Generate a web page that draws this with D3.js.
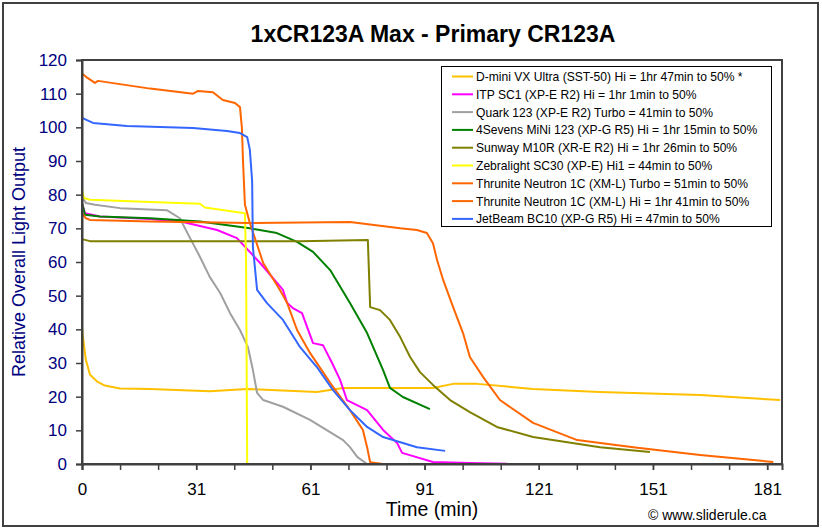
<!DOCTYPE html>
<html><head><meta charset="utf-8">
<script src="https://cdn.jsdelivr.net/npm/d3@7"></script>
<style>
body{margin:0;background:#fff;}
svg{display:block;font-family:Arial,"Liberation Sans",sans-serif;}
</style></head>
<body>
<svg id="chart" width="822" height="530"></svg>
<script>
// ---- data (x in chart category units, y = relative output) ----
const title = "1xCR123A Max - Primary CR123A";
const xTickPositions = [0, 30, 60, 90, 120, 150, 180];
const xTickLabels = ["0", "31", "61", "91", "121", "151", "181"];
const yTicks = [0, 10, 20, 30, 40, 50, 60, 70, 80, 90, 100, 110, 120];

const seriesNames = [
  "D-mini VX Ultra (SST-50) Hi = 1hr 47min to 50% *",
  "ITP SC1 (XP-E R2) Hi = 1hr 1min to 50%",
  "Quark 123 (XP-E R2) Turbo = 41min to 50%",
  "4Sevens MiNi 123 (XP-G R5) Hi = 1hr 15min to 50%",
  "Sunway M10R (XR-E R2) Hi = 1hr 26min to 50%",
  "Zebralight SC30 (XP-E) Hi1 = 44min to 50%",
  "Thrunite Neutron 1C (XM-L) Turbo = 51min to 50%",
  "Thrunite Neutron 1C (XM-L) Hi = 1hr 41min to 50%",
  "JetBeam BC10 (XP-G R5) Hi = 47min to 50%"
];
const seriesColors = ["#FFC000","#FF00FF","#A0A0A0","#008000","#808000","#FFFF00","#FF6600","#FF6600","#3366FF"];

const dminiX = [0,1,2.1,4,6,10,17.9,33.6,43.4,61.7,68.6,92.2,97.5,103.8,118.5,136,162.4,183.4];
const dminiY = [40,31,26.5,24.5,23.3,22.4,22.3,21.6,22.3,21.4,22.6,22.6,23.8,23.8,22.3,21.4,20.5,19.0];

const itpX = [0,0.8,4.7,17.9,26.5,35.5,40.7,46.8,52.8,53.9,55.4,57.8,60.7,63.3,65.7,67.8,69.6,74.9,79.1,82.8,84.1,92.2,101.9,111.7];
const itpY = [77.5,74.5,73.5,72.8,71.9,69.5,67.1,59.7,51.7,47.8,46.3,44.8,35.9,35.3,30,25,19,16,10.1,6.2,3.3,0.6,0.3,0.1];

const quarkX = [0,1.05,3.4,10,22.3,25.7,28.4,31,33.6,36.3,38.9,41.5,43.6,44.9,46,47.6,52.8,59.9,68.6,70.4,72.3,74.9];
const quarkY = [79.3,77.5,77,76,75.4,73,67.1,61.5,55.5,50.8,44.8,39.8,34.7,27.9,21.1,19,17,13.1,7.1,5,2.1,0];

const minisX = [0,0.8,4.7,17.9,31,44.1,51.2,56.5,60.7,65.2,70.4,74.9,79.1,80.9,84.3,91.4];
const minisY = [77.5,74,73.5,73,72,70,68.6,66,63,57.6,47.8,38.9,27.9,22.6,19.9,16.3];

const sunwayX = [0,2.1,31,57.3,75.1,75.7,78.3,80.9,83.6,86.2,88.8,92.2,96.7,101.9,109,118.5,136.1,149.2];
const sunwayY = [66.8,66.2,66.2,66.2,66.5,46.6,45.7,42.8,37.7,31.8,27.3,23.5,19,15.4,11,8,5.0,3.6];

const zebraX = [0,0.5,2.1,17.9,31,32.3,42.8,43.1,43.4,55.4];
const zebraY = [81.4,79,78.5,77.8,77.3,76.2,74.5,60,0,0];

const turboX = [0,1.05,3.4,4.2,17.9,29.2,30.5,34.4,37,40.2,41.5,42,42.3,42.8,44.1,47.6,52,53.9,56.5,59.9,65.2,70.4,73.8,74.9,75.7,79.1,114.6];
const turboY = [116,115,113.2,113.8,111.5,110,110.8,110.4,108.1,107.2,106,100,90,77,71.6,59.7,51.7,47.8,39.8,33,24.1,16,10.1,5,0.5,0,0];

const hiX = [0,1,2.1,17.9,44.1,70.4,83.6,88,90.6,92.2,93.3,94.9,97.5,100.1,101.9,105.4,109.8,118.5,130.1,144.8,162.4,181.6];
const hiY = [74.5,73,72.5,72,71.6,71.9,70,69.5,68.6,65.6,60.5,54.6,46.6,38.9,31.8,25.8,19,12.2,7.1,5,2.7,0.6];

const jetX = [0,2.9,11.8,20.5,29.2,38.1,41.5,43.4,44.1,44.7,44.9,46,48.6,52.8,57.3,61.7,65.9,70.4,74.9,79.1,88,95.4];
const jetY = [102.8,101.3,100.4,100.1,99.8,98.9,98.3,97.1,93.3,84,64.4,51.7,47.8,42.8,34.7,28.8,22,16,11,8,5,3.9];

const seriesX = [dminiX, itpX, quarkX, minisX, sunwayX, zebraX, turboX, hiX, jetX];
const seriesY = [dminiY, itpY, quarkY, minisY, sunwayY, zebraY, turboY, hiY, jetY];

// ---- drawing ----
const svg = d3.select("#chart");
const plot = {left: 82, right: 782, top: 60, bottom: 464};
const x = d3.scaleLinear().domain([0, 183.9]).range([plot.left, plot.right]);
const y = d3.scaleLinear().domain([0, 120]).range([plot.bottom, plot.top]);

// outer frame
svg.append("rect").attr("x", 3).attr("y", 3).attr("width", 815).attr("height", 523)
  .attr("fill", "#fff").attr("stroke", "#404040").attr("stroke-width", 2);

// title
svg.append("text").attr("x", 433).attr("y", 42).attr("text-anchor", "middle")
  .attr("font-size", 23).attr("font-weight", "bold").attr("fill", "#000").text(title);

// series lines
const line = d3.line().x(d => x(d[0])).y(d => y(d[1]));
const gLines = svg.append("g");
seriesX.forEach((xs, i) => {
  const pts = xs.map((v, j) => [v, seriesY[i][j]]);
  gLines.append("path").datum(pts).attr("d", line)
    .attr("fill", "none").attr("stroke", seriesColors[i]).attr("stroke-width", 2)
    .attr("stroke-linejoin", "round");
});

// plot frame
svg.append("rect").attr("x", plot.left).attr("y", plot.top)
  .attr("width", plot.right - plot.left).attr("height", plot.bottom - plot.top)
  .attr("fill", "none").attr("stroke", "#404040").attr("stroke-width", 2);

// y axis
const yAxis = d3.axisLeft(y).tickValues(yTicks).tickSize(6).tickPadding(9);
const gy = svg.append("g").attr("transform", `translate(${plot.left},0)`).call(yAxis);
gy.select(".domain").attr("stroke", "#404040").attr("stroke-width", 2);
gy.selectAll(".tick line").attr("stroke", "#404040").attr("stroke-width", 1.5);
gy.selectAll(".tick text").attr("font-size", 17).attr("fill", "#000080")
  .attr("font-family", "Arial, 'Liberation Sans', sans-serif");

// x axis: minor ticks then labeled ticks
const xMinor = d3.axisBottom(x).tickValues(d3.range(0, 184, 10)).tickSize(6).tickFormat("");
const gxm = svg.append("g").attr("transform", `translate(0,${plot.bottom})`).call(xMinor);
gxm.select(".domain").attr("stroke", "#404040").attr("stroke-width", 2);
gxm.selectAll(".tick line").attr("stroke", "#404040").attr("stroke-width", 1.5);

const xAxis = d3.axisBottom(x).tickValues(xTickPositions).tickSize(6).tickPadding(13)
  .tickFormat((d, i) => xTickLabels[i]);
const gx = svg.append("g").attr("transform", `translate(0,${plot.bottom})`).call(xAxis);
gx.select(".domain").remove();
gx.selectAll(".tick line").attr("stroke", "#404040").attr("stroke-width", 1.5);
gx.selectAll(".tick text").attr("font-size", 17).attr("fill", "#000")
  .attr("font-family", "Arial, 'Liberation Sans', sans-serif");

// axis titles
svg.append("text").attr("x", 432).attr("y", 516).attr("text-anchor", "middle")
  .attr("font-size", 19.5).attr("fill", "#000").text("Time (min)");
svg.append("text").attr("transform", "translate(25,262) rotate(-90)").attr("text-anchor", "middle")
  .attr("font-size", 18).attr("fill", "#000080").text("Relative Overall Light Output");

// copyright
svg.append("text").attr("x", 648).attr("y", 520).attr("font-size", 14).attr("fill", "#000")
  .text("\u00A9 www.sliderule.ca");

// legend
const lg = svg.append("g");
lg.append("rect").attr("x", 441.5).attr("y", 66.5).attr("width", 330).attr("height", 160)
  .attr("fill", "#fff").attr("stroke", "#000").attr("stroke-width", 1);
seriesNames.forEach((name, i) => {
  const cy = 76.5 + i * 17.8;
  lg.append("line").attr("x1", 452).attr("x2", 473).attr("y1", cy).attr("y2", cy)
    .attr("stroke", seriesColors[i]).attr("stroke-width", 2);
  lg.append("text").attr("x", 476).attr("y", cy + 4.5).attr("font-size", 12.1).attr("fill", "#000")
    .text(name);
});
</script>
</body></html>
